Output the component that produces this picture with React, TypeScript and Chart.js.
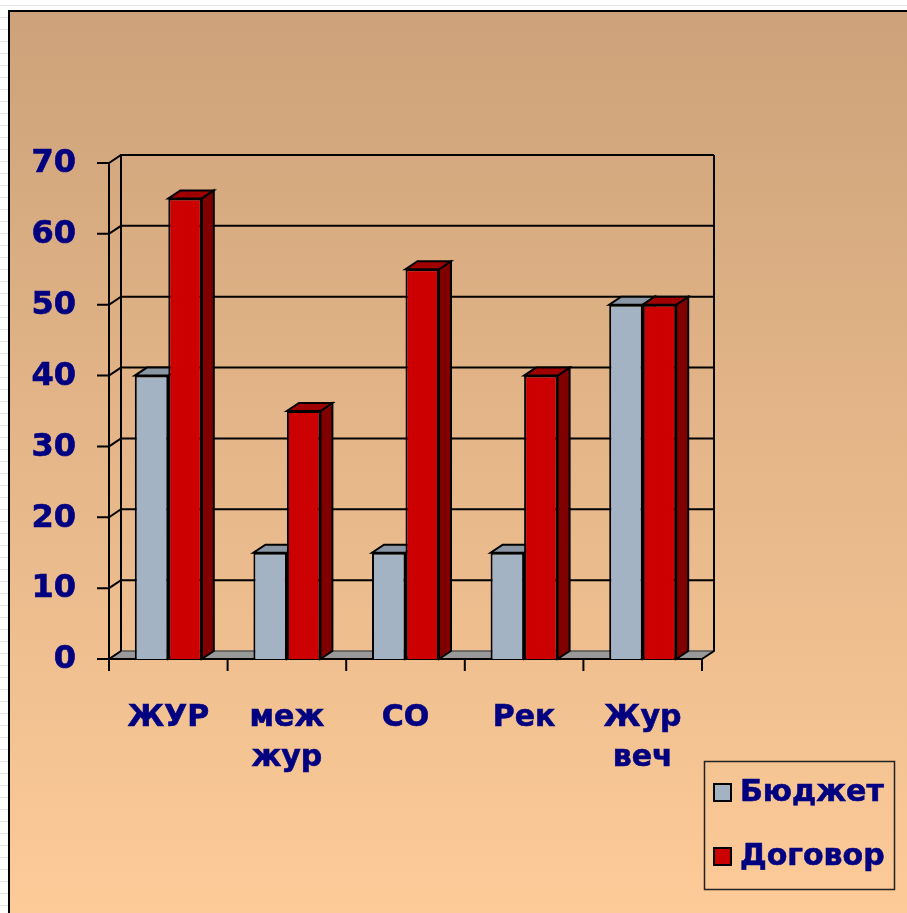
import React, { useEffect, useRef } from 'react';
import { Chart, registerables } from 'chart.js';

Chart.register(...registerables);

const categories: string[][] = [['ЖУР'], ['меж', 'жур'], ['СО'], ['Рек'], ['Жур', 'веч']];
const budget = [40, 15, 15, 15, 50];
const contract = [65, 35, 55, 40, 50];
const seriesNames = ['Бюджет', 'Договор'];
const yTicks = [0, 10, 20, 30, 40, 50, 60, 70];

const W = 907;
const H = 913;
const DX = 12;
const DY = -8;
const FONT = 'bold 30px "DejaVu Sans", Verdana, sans-serif';
const YFONT = 'bold 32px "DejaVu Sans", Verdana, sans-serif';
const TEXT = '#000080';

const frontColors = ['#A3B3C4', '#CC0000'];
const topColors = ['#8A96A3', '#A00000'];
const sideColors = ['#75818E', '#800000'];

function boldText(ctx: any, t: string, x: number, y: number) {
  ctx.fillText(t, x, y);
  ctx.strokeText(t, x, y);
}

const scenePlugin = {
  id: 'scene3d',
  beforeDraw(chart: any) {
    const ctx = chart.ctx;
    ctx.save();
    ctx.fillStyle = '#ffffff';
    ctx.fillRect(0, 0, W, H);
    ctx.strokeStyle = '#e6e6e6';
    ctx.lineWidth = 1;
    for (let y = 5; y < H; y += 12) {
      ctx.beginPath();
      ctx.moveTo(0, y + 0.5);
      ctx.lineTo(8, y + 0.5);
      ctx.stroke();
    }
    ctx.beginPath();
    ctx.moveTo(0, 5.5);
    ctx.lineTo(W, 5.5);
    ctx.stroke();
    const g = ctx.createLinearGradient(0, 10, 0, H);
    g.addColorStop(0, '#CDA27A');
    g.addColorStop(1, '#FDCB98');
    ctx.fillStyle = g;
    ctx.fillRect(9, 11, W - 9, H - 11);
    ctx.strokeStyle = '#000';
    ctx.lineWidth = 2;
    ctx.beginPath();
    ctx.moveTo(9, H);
    ctx.lineTo(9, 11);
    ctx.lineTo(W, 11);
    ctx.stroke();
    ctx.restore();
  },
  beforeDatasetsDraw(chart: any) {
    const ctx = chart.ctx;
    const xs = chart.scales.x;
    const ys = chart.scales.y;
    const left = chart.chartArea.left;
    const right = chart.chartArea.right;
    const y0 = ys.getPixelForValue(0);
    const yTop = ys.getPixelForValue(yTicks[yTicks.length - 1]);
    ctx.save();
    ctx.lineWidth = 2;
    ctx.strokeStyle = '#000';
    ctx.lineJoin = 'miter';

    // floor
    ctx.fillStyle = '#999999';
    ctx.beginPath();
    ctx.moveTo(left, y0);
    ctx.lineTo(right, y0);
    ctx.lineTo(right + DX, y0 + DY);
    ctx.lineTo(left + DX, y0 + DY);
    ctx.closePath();
    ctx.fill();
    ctx.strokeStyle = '#555';
    ctx.lineWidth = 1.5;
    ctx.beginPath();
    ctx.moveTo(left + DX, y0 + DY);
    ctx.lineTo(right + DX, y0 + DY);
    ctx.stroke();

    // gridlines on back wall + diagonals + ticks
    ctx.strokeStyle = '#000';
    ctx.lineWidth = 2;
    yTicks.forEach((v) => {
      const y = ys.getPixelForValue(v);
      ctx.beginPath();
      ctx.moveTo(left - 12, y);
      ctx.lineTo(left, y);
      ctx.lineTo(left + DX, y + DY);
      if (v !== 0) ctx.lineTo(right + DX, y + DY);
      ctx.stroke();
    });
    // back wall edges
    ctx.beginPath();
    ctx.moveTo(left + DX, y0 + DY);
    ctx.lineTo(left + DX, yTop + DY);
    ctx.moveTo(right + DX, yTop + DY);
    ctx.lineTo(right + DX, y0 + DY);
    ctx.lineTo(right, y0);
    ctx.stroke();
    // front axes
    ctx.beginPath();
    ctx.moveTo(left, yTop);
    ctx.lineTo(left, y0);
    ctx.lineTo(right, y0);
    ctx.stroke();
    // x ticks
    const n = categories.length;
    const cw = (right - left) / n;
    for (let i = 0; i <= n; i++) {
      const x = left + i * cw;
      ctx.beginPath();
      ctx.moveTo(x, y0);
      ctx.lineTo(x, y0 + 12);
      ctx.stroke();
    }

    // y labels
    ctx.fillStyle = TEXT;
    ctx.strokeStyle = TEXT;
    ctx.lineWidth = 0.6;
    ctx.font = YFONT;
    ctx.textAlign = 'right';
    ctx.textBaseline = 'middle';
    yTicks.forEach((v) => {
      boldText(ctx, String(v), left - 33, ys.getPixelForValue(v) + 1);
    });
    // x labels
    ctx.font = FONT;
    ctx.textAlign = 'center';
    ctx.textBaseline = 'alphabetic';
    categories.forEach((lines, i) => {
      const cx = xs.getPixelForValue(i);
      lines.forEach((t, j) => {
        boldText(ctx, t, cx, y0 + 67 + j * 40);
      });
    });

    // 3D top and side faces of bars
    ctx.lineWidth = 2;
    ctx.strokeStyle = '#000';
    chart.data.datasets.forEach((ds: any, di: number) => {
      const meta = chart.getDatasetMeta(di);
      meta.data.forEach((el: any) => {
        const l = el.x - el.width / 2;
        const r = el.x + el.width / 2;
        const t = el.y;
        const b = el.base;
        ctx.fillStyle = sideColors[di];
        ctx.beginPath();
        ctx.moveTo(r, t);
        ctx.lineTo(r + DX, t + DY);
        ctx.lineTo(r + DX, b + DY);
        ctx.lineTo(r, b);
        ctx.closePath();
        ctx.fill();
        ctx.stroke();
        ctx.fillStyle = topColors[di];
        ctx.beginPath();
        ctx.moveTo(l, t);
        ctx.lineTo(r, t);
        ctx.lineTo(r + DX, t + DY);
        ctx.lineTo(l + DX, t + DY);
        ctx.closePath();
        ctx.fill();
        ctx.stroke();
      });
    });
    ctx.restore();
  },
  afterDraw(chart: any) {
    const ctx = chart.ctx;
    ctx.save();
    // legend
    ctx.strokeStyle = '#222';
    ctx.lineWidth = 1.5;
    ctx.strokeRect(704.5, 761.5, 190, 128);
    ctx.font = FONT;
    ctx.textAlign = 'left';
    ctx.textBaseline = 'middle';
    chart.data.datasets.forEach((ds: any, i: number) => {
      const cy = 792 + i * 64;
      ctx.fillStyle = ds.backgroundColor;
      ctx.fillRect(714, cy - 8, 17, 17);
      ctx.strokeStyle = '#000';
      ctx.lineWidth = 2;
      ctx.strokeRect(714, cy - 8, 17, 17);
      ctx.fillStyle = TEXT;
      ctx.strokeStyle = TEXT;
      ctx.lineWidth = 0.6;
      boldText(ctx, ds.label, 740, cy + 1);
    });
    ctx.restore();
  },
};

export default function App() {
  const ref = useRef<HTMLCanvasElement>(null);
  useEffect(() => {
    if (!ref.current) return;
    const chart = new Chart(ref.current, {
      type: 'bar',
      data: {
        labels: categories,
        datasets: [
          {
            label: seriesNames[0],
            data: budget,
            backgroundColor: frontColors[0],
            borderColor: '#000',
            borderWidth: 2,
            categoryPercentage: 0.565,
            barPercentage: 1,
          },
          {
            label: seriesNames[1],
            data: contract,
            backgroundColor: frontColors[1],
            borderColor: '#000',
            borderWidth: 2,
            categoryPercentage: 0.565,
            barPercentage: 1,
          },
        ],
      },
      options: {
        animation: false,
        responsive: false,
        devicePixelRatio: 1,
        layout: { padding: { left: 109, right: W - 702, top: 163, bottom: H - 659 } },
        plugins: { legend: { display: false }, tooltip: { enabled: false } },
        scales: {
          x: { display: false },
          y: { display: false, min: 0, max: 70 },
        },
      },
      plugins: [scenePlugin],
    });
    return () => chart.destroy();
  }, []);
  return (
    <div style={{ position: 'fixed', left: 0, top: 0, width: W, height: H }}>
      <canvas ref={ref} width={W} height={H} style={{ display: 'block' }} />
    </div>
  );
}
